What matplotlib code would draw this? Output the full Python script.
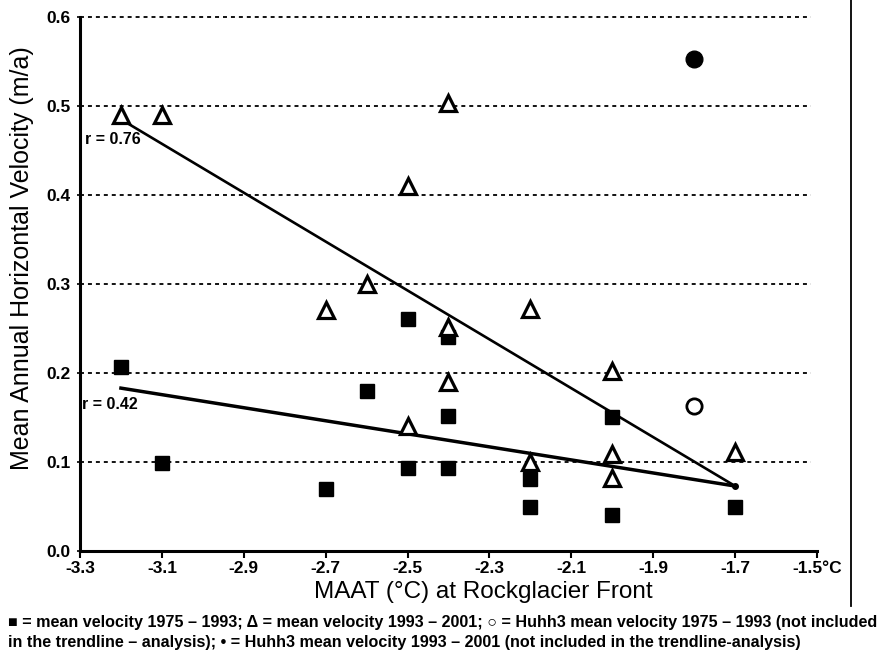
import matplotlib
matplotlib.use("Agg")
import matplotlib.pyplot as plt
from matplotlib.lines import Line2D

plt.rcParams['font.family'] = ['Liberation Sans', 'DejaVu Sans']

# Mean velocity 1975-1993 (squares)
sq_maat = [-3.2, -3.1, -2.7, -2.6, -2.5, -2.5, -2.4, -2.4, -2.4, -2.2, -2.2, -2.0, -2.0, -1.7]
sq_vel = [0.207, 0.099, 0.070, 0.180, 0.261, 0.093, 0.240, 0.152, 0.093, 0.081, 0.050, 0.151, 0.041, 0.050]

# Mean velocity 1993-2001 (triangles)
tri_maat = [-3.2, -3.1, -2.7, -2.6, -2.5, -2.5, -2.4, -2.4, -2.4, -2.2, -2.2, -2.0, -2.0, -2.0, -1.7]
tri_vel = [0.490, 0.490, 0.271, 0.300, 0.410, 0.140, 0.503, 0.252, 0.190, 0.272, 0.100, 0.202, 0.109, 0.082, 0.111]

# Huhh3 (not included in the trendline analysis)
huhh_maat = [-1.8]
huhh_old = [0.163]
huhh_new = [0.553]

# Trendlines
trend_x = [-3.2, -1.7]
trend_tri = [0.485, 0.073]
trend_sq = [0.183, 0.073]

x_ticks = [-3.3, -3.1, -2.9, -2.7, -2.5, -2.3, -2.1, -1.9, -1.7, -1.5]
x_tick_labels = ['-3.3', '-3.1', '-2.9', '-2.7', '-2.5', '-2.3', '-2.1', '-1.9', '-1.7', '-1.5°C']
y_ticks = [0.0, 0.1, 0.2, 0.3, 0.4, 0.5, 0.6]

fig = plt.figure(figsize=(8.94, 6.54), dpi=100)
ax = fig.add_axes([80 / 894, 1 - 551 / 654, (817 - 80) / 894, (551 - 17) / 654])
ax.set_xlim(-3.3, -1.5)
ax.set_ylim(0.0, 0.6)

# dotted horizontal grid
ax.hlines(y_ticks[1:], -3.3, -1.515, colors='black', linestyles=(0, (2.2, 2.2)),
          linewidth=1.3, zorder=1, clip_on=False)

ax.plot(trend_x, trend_tri, color='black', linewidth=1.9, zorder=2)
ax.plot(trend_x, trend_sq, color='black', linewidth=2.5, zorder=2)
ax.plot([trend_x[-1]], [trend_sq[-1]], 'o', color='black', markersize=4, zorder=2)

ax.plot(sq_maat, sq_vel, 's', color='black', markersize=10, zorder=3, linestyle='none')
ax.plot(tri_maat, tri_vel, '^', markerfacecolor='white', markeredgecolor='black',
        markeredgewidth=2.3, markersize=12, zorder=4, linestyle='none')
ax.plot(huhh_maat, huhh_old, 'o', markerfacecolor='white', markeredgecolor='black',
        markeredgewidth=2.0, markersize=11, zorder=4, linestyle='none')
ax.plot(huhh_maat, huhh_new, 'o', color='black', markersize=12, zorder=4, linestyle='none')

ax.text(-3.287, 0.462, 'r = 0.76', fontsize=11.5, fontweight='bold', ha='left', va='center')
ax.text(-3.294, 0.165, 'r = 0.42', fontsize=11.5, fontweight='bold', ha='left', va='center')

for s in ['top', 'right']:
    ax.spines[s].set_visible(False)
ax.spines['left'].set_linewidth(2.2)
ax.spines['bottom'].set_linewidth(2.2)

ax.set_xticks(x_ticks)
ax.set_xticklabels(x_tick_labels)
ax.set_yticks(y_ticks)
ax.set_yticklabels([f'{v:.1f}' for v in y_ticks])
ax.tick_params(axis='x', direction='out', length=5, width=1.5, labelsize=12.5, pad=2)
ax.tick_params(axis='y', direction='out', length=2, width=1.2, labelsize=12.5, pad=5)
for lbl in ax.get_xticklabels() + ax.get_yticklabels():
    lbl.set_fontweight('bold')

ax.set_ylabel('Mean Annual Horizontal Velocity (m/a)', fontsize=18)
ax.yaxis.set_label_coords(-58 / 737, (551 - 258) / 534)
ax.set_xlabel('MAAT (°C) at Rockglacier Front', fontsize=17.5)
ax.xaxis.set_label_coords((483 - 80) / 737, -(592 - 551) / 534)
ax.xaxis.label.set_va('center')
ax.yaxis.label.set_va('center')

# vertical frame line on the right
fig.add_artist(Line2D([851 / 894, 851 / 894], [1.0, 1 - 606 / 654], color='black',
                      linewidth=1.3, transform=fig.transFigure))

fig.text(8 / 894, 1 - 623 / 654,
         '■ = mean velocity 1975 – 1993; Δ = mean velocity 1993 – 2001; ○ = Huhh3 mean velocity 1975 – 1993 (not included',
         fontsize=11.6, fontweight='bold', ha='left', va='center')
fig.text(8 / 894, 1 - 642 / 654,
         'in the trendline – analysis); • = Huhh3 mean velocity 1993 – 2001 (not included in the trendline-analysis)',
         fontsize=11.6, fontweight='bold', ha='left', va='center')

fig.savefig('out.png', dpi=100)
